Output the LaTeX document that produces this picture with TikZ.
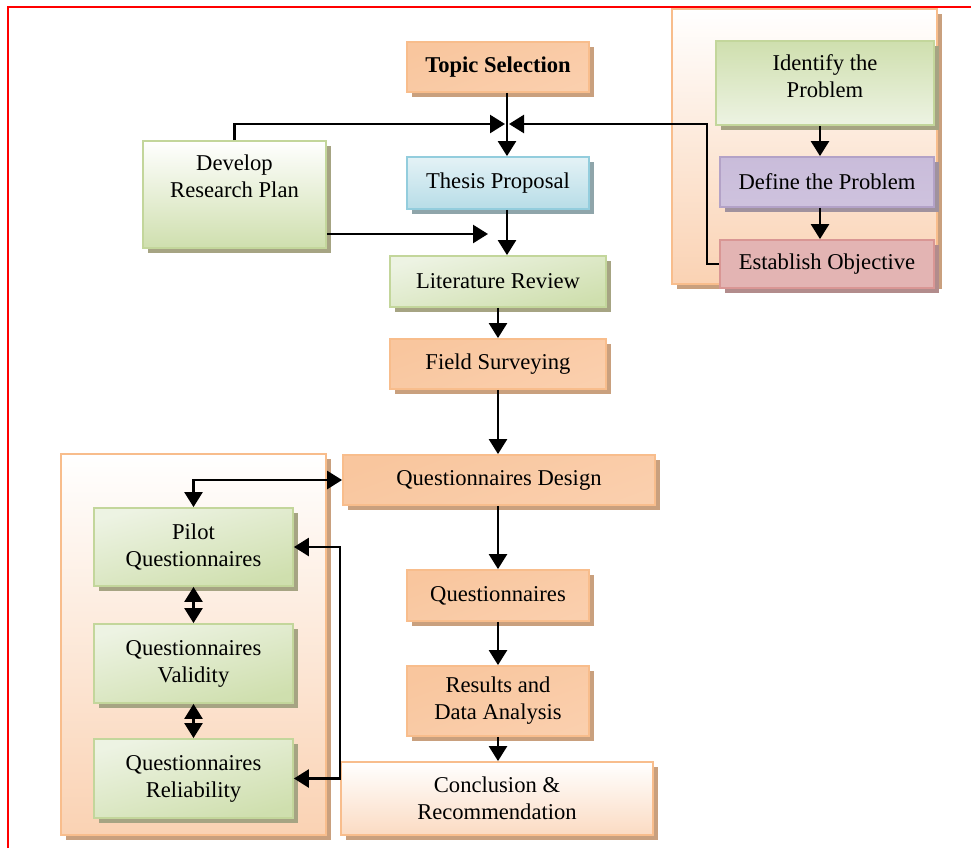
\documentclass[tikz,border=0pt]{standalone}
\usepackage{fontspec}
\setmainfont{Liberation Serif}
\usepackage{xcolor}
\usepackage{tikz}
\usetikzlibrary{arrows.meta,shadows,positioning}

\definecolor{orgline}{HTML}{F8BD8C}
\definecolor{orgdark}{HTML}{F9C69E}
\definecolor{orglight}{HTML}{FDEBDD}
\definecolor{orgshadow}{HTML}{C9A07E}
\definecolor{grnline}{HTML}{C3D69B}
\definecolor{grndark}{HTML}{CFDFAE}
\definecolor{grnlight}{HTML}{EDF3E3}
\definecolor{grnshadow}{HTML}{A6A483}
\definecolor{bluline}{HTML}{93CDDD}
\definecolor{bludark}{HTML}{B7DDE7}
\definecolor{blulight}{HTML}{E4F2F6}
\definecolor{blushadow}{HTML}{8FA5AA}
\definecolor{purline}{HTML}{B3A2C7}
\definecolor{purdark}{HTML}{C9BCDA}
\definecolor{purlight}{HTML}{ECE7F2}
\definecolor{purshadow}{HTML}{A0929E}
\definecolor{redline}{HTML}{D99694}
\definecolor{reddark}{HTML}{E3B4B3}
\definecolor{redlight}{HTML}{F6E6E6}
\definecolor{redshadow}{HTML}{B28C8C}
\definecolor{peach}{HTML}{FAD2B3}

\begin{document}
\begin{tikzpicture}[x=0.5pt,y=-0.5pt,
    font=\fontsize{11.3}{13.5}\selectfont,
    box/.style={draw, line width=0.9pt, align=center, inner sep=2pt},
    orangebox/.style={box, draw=orgline, top color=orgdark, middle color=orglight, bottom color=orgdark!85,
        shading angle=20, drop shadow={shadow xshift=2.5pt, shadow yshift=-2.5pt, fill=orgshadow, opacity=1}},
    greenbox/.style={box, draw=grnline, top color=grnlight, middle color=grnlight!60!grndark, bottom color=grndark,
        shading angle=15, drop shadow={shadow xshift=2.5pt, shadow yshift=-2.5pt, fill=grnshadow, opacity=1}},
    bluebox/.style={box, draw=bluline, top color=blulight, bottom color=bludark,
        drop shadow={shadow xshift=2.5pt, shadow yshift=-2.5pt, fill=blushadow, opacity=1}},
    purplebox/.style={box, draw=purline, top color=purdark, middle color=purlight, bottom color=purdark!90,
        drop shadow={shadow xshift=2.5pt, shadow yshift=-2.5pt, fill=purshadow, opacity=1}},
    redbox/.style={box, draw=redline, top color=reddark, middle color=redlight, bottom color=reddark,
        shading angle=20, drop shadow={shadow xshift=2.5pt, shadow yshift=-2.5pt, fill=redshadow, opacity=1}},
    container/.style={draw=orgline, line width=1pt, top color=white, bottom color=peach,
        drop shadow={shadow xshift=2.5pt, shadow yshift=-2.5pt, fill=orgshadow, opacity=1}},
    arr/.style={line width=1.25pt, -{Triangle[length=7.5pt,width=9pt]}},
    arrboth/.style={line width=1.25pt, {Triangle[length=7.5pt,width=9pt]}-{Triangle[length=7.5pt,width=9pt]}}]

    \useasboundingbox (0,0) rectangle (971,848);

    % Frame
    \draw[red, line width=1.2pt] (8,848) -- (8,7) -- (971,7);

    % Groups
    \node[container, minimum width=132.5pt, minimum height=137.5pt] (probgroup) at (804.5,146.5) {};
    \node[container, minimum width=132.5pt, minimum height=190.5pt] (qgroup) at (193.5,644.5) {};

    % Main column
    \node[orangebox, minimum width=91pt, minimum height=25pt] (topic) at (498,67) {\textbf{Topic Selection}};
    \node[bluebox, minimum width=91pt, minimum height=26pt] (thesis) at (498,183) {Thesis Proposal};
    \node[greenbox, minimum width=108pt, minimum height=25.5pt] (litreview) at (498,281.5) {Literature Review};
    \node[orangebox, minimum width=108pt, minimum height=25pt] (field) at (498,364) {Field Surveying};
    \node[orangebox, minimum width=156pt, minimum height=25pt] (design) at (499,480) {Questionnaires Design};
    \node[orangebox, minimum width=91pt, minimum height=25.5pt] (quest) at (498,595.5) {Questionnaires};
    \node[orangebox, minimum width=91pt, minimum height=35pt] (results) at (498,701) {Results and\\Data Analysis};
    \node[box, draw=orgline, top color=white, bottom color=peach!80, minimum width=156pt, minimum height=36.5pt,
        drop shadow={shadow xshift=2.5pt, shadow yshift=-2.5pt, fill=orgshadow, opacity=1}]
        (conclusion) at (497,798.5) {Conclusion \&\\Recommendation};

    % Plan
    \node[greenbox, top color=white, bottom color=grndark, minimum width=91.5pt, minimum height=53.5pt] (plan) at (234.5,194.5) {};
    \node[align=center] (plantext) at (234.5,176) {Develop\\Research Plan};

    % Problem group
    \node[greenbox, top color=grndark, bottom color=grnlight, minimum width=109pt, minimum height=42pt] (identify) at (825,83) {};
    \node[align=center] (identifytext) at (825,76) {Identify the\\Problem};
    \node[purplebox, minimum width=107pt, minimum height=25pt] (define) at (827,182) {Define the Problem};
    \node[redbox, minimum width=107pt, minimum height=24pt] (establish) at (827,264) {Establish Objective};

    % Questionnaire group
    \node[greenbox, minimum width=99.5pt, minimum height=39pt] (pilot) at (193.5,547) {Pilot\\Questionnaires};
    \node[greenbox, minimum width=99.5pt, minimum height=39.5pt] (validity) at (193.5,663.5) {Questionnaires\\Validity};
    \node[greenbox, minimum width=99.5pt, minimum height=39.5pt] (reliab) at (193.5,778.5) {Questionnaires\\Reliability};

    % Junctions
    \coordinate (jn) at (507,124);
    \coordinate (bend) at (707,124);
    \coordinate (planin) at (488,234);
    \coordinate (loop) at (340,660);

    % Connections
    \draw[arr] (topic.south -| jn) -- (thesis.north -| jn);
    \draw[arr] (plan.north) |- ([xshift=-1pt]jn);
    \draw[arr] (establish.west) -| (bend) -- ([xshift=1pt]jn);
    \draw[arr] (plan.east |- planin) -- (planin);
    \draw[arr] (thesis.south -| jn) -- (litreview.north -| jn);
    \draw[arr] (identify.south -| 820,0) -- (define.north -| 820,0);
    \draw[arr] (define.south -| 820,0) -- (establish.north -| 820,0);
    \draw[arr] (litreview.south) -- (field.north);
    \draw[arr] (field.south) -- (field.south |- design.north);
    \draw[arr] (design.south -| quest) -- (quest.north);
    \draw[arr] (quest.south) -- (results.north);
    \draw[arr] (results.south) -- (results.south |- conclusion.north);
    \draw[arrboth] (design.west) -| (pilot.north);
    \draw[arrboth] (pilot.south) -- (validity.north);
    \draw[arrboth] (validity.south) -- (reliab.north);
    \draw[arrboth] (pilot.east) -- (pilot.east -| loop) -- (reliab.east -| loop) -- (reliab.east);
\end{tikzpicture}
\end{document}
